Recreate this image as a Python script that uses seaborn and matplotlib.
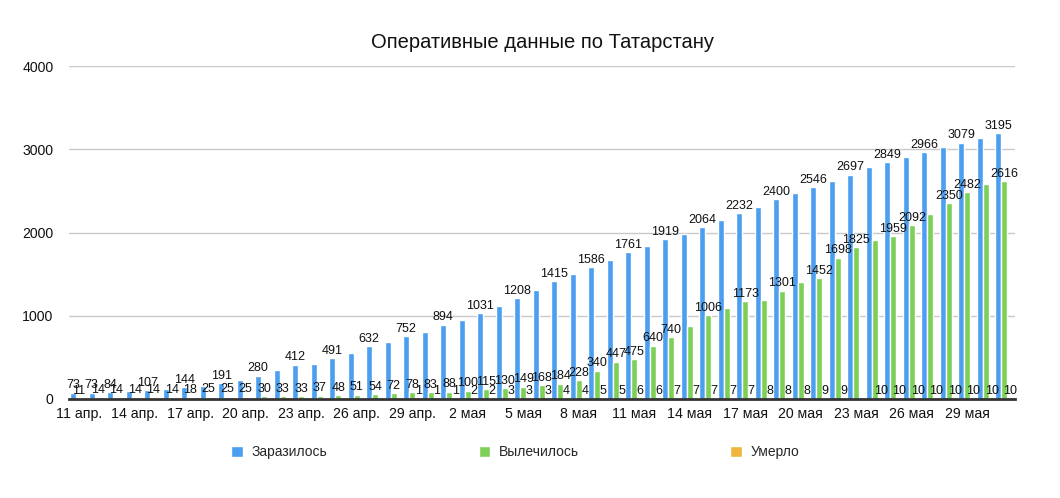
import matplotlib
matplotlib.use('Agg')
import matplotlib.pyplot as plt
import numpy as np
import pandas as pd
import seaborn as sns

# 11 April .. 31 May
days = [f'{d} апр.' for d in range(11, 31)] + [f'{d} мая' for d in range(1, 32)]

infected = [73, 73, 84, 96, 107, 120, 144, 160, 191, 222,
            280, 345, 412, 425, 491, 556, 632, 690, 752, 810,
            894, 950, 1031, 1115, 1208, 1312, 1415, 1500, 1586, 1672,
            1761, 1840, 1919, 1985, 2064, 2150, 2232, 2312, 2400, 2472,
            2546, 2624, 2697, 2784, 2849, 2912, 2966, 3030, 3079, 3140,
            3195]
recovered = [11, 14, 14, 14, 14, 14, 18, 25, 25, 25,
             30, 33, 33, 37, 48, 51, 54, 72, 78, 83,
             88, 100, 115, 130, 149, 168, 184, 228, 340, 447,
             475, 640, 740, 880, 1006, 1090, 1173, 1195, 1301, 1410,
             1452, 1698, 1825, 1905, 1959, 2092, 2225, 2350, 2482, 2585,
             2616]
died = [0] * 18 + [1, 1, 1, 2, 2, 3, 3, 3, 4, 4, 5, 5, 6, 6, 7, 7, 7, 7, 7,
                   8, 8, 8, 9, 9, 9, 10, 10, 10, 10, 10, 10, 10, 10]

series = ['Заразилось', 'Вылечилось', 'Умерло']
colors = ['#4a9ff0', '#7dd057', '#f0b53c']

tick_labels = ['11 апр.', '14 апр.', '17 апр.', '20 апр.', '23 апр.', '26 апр.',
               '29 апр.', '2 мая', '5 мая', '8 мая', '11 мая', '14 мая',
               '17 мая', '20 мая', '23 мая', '26 мая', '29 мая']

# labels the original chart leaves out (they would overlap)
hidden_infected = [i for i in range(3, 51, 2)]
hidden_recovered = [33, 35, 37, 39, 43, 46, 49]
hidden_died = [42]

df = pd.DataFrame({
    'day': days * 3,
    'series': np.repeat(series, len(days)),
    'value': infected + recovered + died,
})

sns.set_theme(style='white')
plt.rcParams['font.family'] = ['Liberation Sans', 'DejaVu Sans']

fig = plt.figure(figsize=(10.6, 4.98), dpi=100)
ax = fig.add_axes([0.065, 0.199, 0.893, 0.668])

sns.barplot(data=df, x='day', y='value', hue='series', palette=colors,
            width=0.97, gap=0.03, saturation=1, ax=ax, legend=True)

for cont, vals, hidden in zip(ax.containers, [infected, recovered, died],
                              [hidden_infected, hidden_recovered, hidden_died]):
    labels = ['' if (i in hidden or v == 0) else str(v) for i, v in enumerate(vals)]
    ax.bar_label(cont, labels=labels, padding=1, fontsize=9, color='#111111')

ax.set_ylim(0, 4000)
ax.set_yticks([0, 1000, 2000, 3000, 4000])
ax.set_xlim(-0.55, 50.6)
ax.set_xticks(range(0, 51, 3))
ax.set_xticklabels(tick_labels)
ax.tick_params(axis='x', length=0, pad=6, labelsize=10.2, colors='#111111')
ax.tick_params(axis='y', length=0, pad=11, labelsize=10.2, colors='#111111')
ax.yaxis.grid(True, color='#c9c9c9', linewidth=1)
ax.set_axisbelow(True)
for s in ['top', 'right', 'left']:
    ax.spines[s].set_visible(False)
ax.spines['bottom'].set_color('#333333')
ax.spines['bottom'].set_linewidth(2)
ax.set_xlabel('')
ax.set_ylabel('')
ax.set_title('Оперативные данные по Татарстану', fontsize=14.5, pad=13, color='#111111')

handles, labs = ax.get_legend_handles_labels()
ax.get_legend().remove()
fig.legend(handles, labs, loc='center', bbox_to_anchor=(0.486, 0.092), ncol=3,
           frameon=False, fontsize=10, handlelength=0.85, handleheight=0.85,
           handletextpad=0.6, columnspacing=10.9)

fig.savefig('out.png', dpi=100)
